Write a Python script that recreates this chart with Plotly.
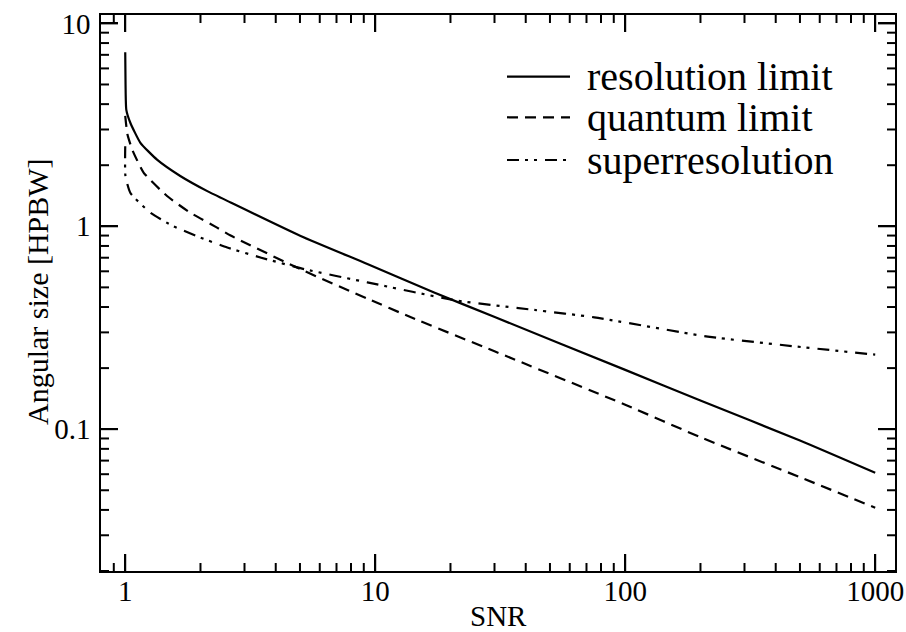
import math
import plotly.graph_objects as go

# ---- data (SNR, angular size in HPBW) ----
snr_res = [1.0, 1.003, 1.01, 1.049, 1.15, 1.34, 1.66, 2.13, 2.64, 5.03, 9.3, 17.2, 29.9, 100, 201, 500, 1000]
ang_res = [7.2, 5.0, 3.75, 3.23, 2.58, 2.13, 1.77, 1.49, 1.31, 0.896, 0.652, 0.472, 0.358, 0.196, 0.138, 0.088, 0.061]

snr_qua = [1.0, 1.02, 1.066, 1.186, 1.47, 1.82, 2.33, 2.64, 5.19, 9.3, 13.9, 30, 100, 201, 500, 1000]
ang_qua = [3.5, 2.85, 2.39, 1.835, 1.41, 1.167, 0.985, 0.9, 0.603, 0.44, 0.356, 0.242, 0.132, 0.091, 0.058, 0.041]

snr_sup = [1.0, 1.002, 1.049, 1.26, 1.56, 2.0, 2.56, 3.5, 5.2, 9.3, 21.3, 43.3, 75.2, 214, 506, 1000]
ang_sup = [2.48, 1.77, 1.46, 1.167, 1.0, 0.88, 0.786, 0.70, 0.615, 0.529, 0.43, 0.387, 0.356, 0.286, 0.254, 0.233]

series_names = ["resolution limit", "quantum limit", "superresolution"]
x_ticks = [1, 10, 100, 1000]
x_ticktext = ["1", "10", "100", "1000"]
y_ticks = [0.1, 1, 10]
y_ticktext = ["0.1", "1", "10"]
x_minor = [0.9] + [m * d for d in (1, 10, 100) for m in range(2, 10)]
y_minor = [m * d for d in (0.01, 0.1, 1) for m in range(2, 10)]

FONT = "Liberation Serif, Times New Roman, DejaVu Serif, serif"
dashes = ["solid", "11px,7px", "12px,6px,3px,6px,3px,8px"]
X_RANGE = [math.log10(0.8), math.log10(1200)]
Y_RANGE = [math.log10(0.02), math.log10(11)]

W, H = 906, 632
ML, MR, MT, MB = 101, 11, 15, 61
PW, PH = W - ML - MR, H - MT - MB

fig = go.Figure()
for xs, ys, nm, ds in zip([snr_res, snr_qua, snr_sup], [ang_res, ang_qua, ang_sup], series_names, dashes):
    fig.add_trace(go.Scatter(x=xs, y=ys, mode="lines", name=nm, showlegend=False,
                             line=dict(color="black", width=2.2, dash=ds, shape="spline", smoothing=0.5)))

axis_common = dict(
    type="log", showgrid=False, zeroline=False, showline=True, linecolor="black", linewidth=1.6,
    mirror="ticks", ticks="inside", ticklen=17, tickwidth=2, tickcolor="black",
    automargin=False, tickmode="array",
    tickfont=dict(family=FONT, size=29, color="black"),
)

fig.update_layout(
    width=W, height=H, margin=dict(l=ML, r=MR, t=MT, b=MB),
    paper_bgcolor="white", plot_bgcolor="white",
    font=dict(family=FONT, color="black"),
    xaxis=dict(axis_common, range=X_RANGE, tickvals=x_ticks, ticktext=x_ticktext, ticklabelstandoff=-7),
    yaxis=dict(axis_common, range=Y_RANGE, tickvals=y_ticks, ticktext=y_ticktext, ticklabelstandoff=3),
)

# ---- tick marks on all four sides (inside), placed through the axes' scales ----
tick_line = dict(color="black", width=2)
for vals, ln in ((x_ticks, 17), (x_minor, 8)):
    f = ln / PH
    for v in vals:
        fig.add_shape(type="line", xref="x", yref="paper", x0=v, x1=v, y0=0, y1=f, line=tick_line, layer="above")
        fig.add_shape(type="line", xref="x", yref="paper", x0=v, x1=v, y0=1, y1=1 - f, line=tick_line, layer="above")
for vals, ln in ((y_ticks, 17), (y_minor, 8)):
    f = ln / PW
    for v in vals:
        fig.add_shape(type="line", xref="paper", yref="y", x0=0, x1=f, y0=v, y1=v, line=tick_line, layer="above")
        fig.add_shape(type="line", xref="paper", yref="y", x0=1, x1=1 - f, y0=v, y1=v, line=tick_line, layer="above")

# ---- axis titles ----
def px(x):
    return (x - ML) / PW
def py(y):
    return (H - MB - y) / PH

fig.add_annotation(xref="paper", yref="paper", x=px(498), y=py(616), text="SNR", showarrow=False,
                   xanchor="center", yanchor="middle", font=dict(family=FONT, size=29, color="black"))
fig.add_annotation(xref="paper", yref="paper", x=px(37), y=py(292), text="Angular size [HPBW]", showarrow=False,
                   textangle=-90, xanchor="center", yanchor="middle", font=dict(family=FONT, size=30, color="black"))

# ---- hand-drawn legend (paper coordinates) ----
rows = [76.7, 117.3, 160.0]
for yy, nm, ds in zip(rows, series_names, dashes):
    fig.add_shape(type="line", xref="paper", yref="paper", x0=px(507), x1=px(570), y0=py(yy), y1=py(yy),
                  line=dict(color="black", width=2.2, dash=ds))
    fig.add_annotation(xref="paper", yref="paper", x=px(585), y=py(yy), text=nm, showarrow=False,
                       xanchor="left", yanchor="middle", font=dict(family=FONT, size=40, color="black"))

fig.write_html("out.html")
